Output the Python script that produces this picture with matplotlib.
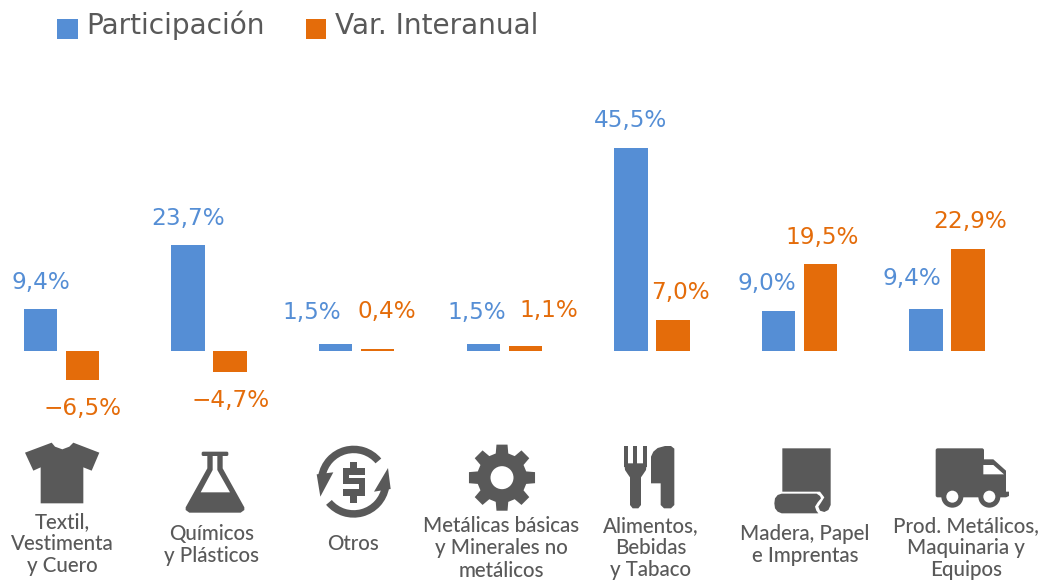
import numpy as np
import matplotlib
matplotlib.use("Agg")
import matplotlib.pyplot as plt
from matplotlib.patches import Polygon, Circle, Wedge, FancyBboxPatch

categories = ["Textil,\nVestimenta\ny Cuero", "Químicos\ny Plásticos", "Otros",
              "Metálicas básicas\ny Minerales no\nmetálicos", "Alimentos,\nBebidas\ny Tabaco",
              "Madera, Papel\ne Imprentas", "Prod. Metálicos,\nMaquinaria y\nEquipos"]
participacion = [9.4, 23.7, 1.5, 1.5, 45.5, 9.0, 9.4]
var_interanual = [-6.5, -4.7, 0.4, 1.1, 7.0, 19.5, 22.9]
series_names = ["Participación", "Var. Interanual"]

BLUE, ORANGE, GREY = "#558ED5", "#E46C0A", "#595959"
W, H = 1045, 580
fig = plt.figure(figsize=(W / 100, H / 100), dpi=100, facecolor="white")
ax = fig.add_axes([0, 0, 1, 1])
PX_X, PX_Y, X0, Y0 = 147.6, 4.46, 61.5, 351.0
ax.set_xlim(-X0 / PX_X, (W - X0) / PX_X)
ax.set_ylim((Y0 - H) / PX_Y, Y0 / PX_Y)
ax.axis("off")

x = np.arange(len(categories))
bw, off = 33.5 / PX_X, 21 / PX_X
b1 = ax.bar(x - off, participacion, bw, color=BLUE, label=series_names[0])
b2 = ax.bar(x + off, var_interanual, bw, color=ORANGE, label=series_names[1])

def fmt(v):
    return f"{v:.1f}".replace(".", ",").replace("-", "\u2212") + "%"

# label offsets from the bar end, in pixels (dx, dy upward)
off1 = [(0, 27), (0, 27), (-24, 32), (-7, 32), (0, 28), (-12, 27), (-14, 31)]
off2 = [(0, -29), (0, -29), (9, 38), (24, 36), (8, 27), (2, 27), (2, 27)]
for xs, vals, offs, col in ((x - off, participacion, off1, BLUE), (x + off, var_interanual, off2, ORANGE)):
    for xi, v, (dx, dy) in zip(xs, vals, offs):
        ax.annotate(fmt(v), (xi, v), xytext=(dx * .72, dy * .72), textcoords="offset points",
                    ha="center", va="center", color=col, fontsize=16.7, family="DejaVu Sans")

leg = ax.legend(handles=[b1, b2], loc="upper left", bbox_to_anchor=(35 / W, 1 + 12 / H), frameon=False,
                ncol=2, fontsize=20.2, labelcolor=GREY, handlelength=0.72, handleheight=0.75,
                handletextpad=0.3, columnspacing=1.48, borderpad=0.3)
for h in leg.legend_handles:
    h.set_y(h.get_y() - 5 * .72)

# overlay in reference pixel coordinates for the pictograms and captions
ov = fig.add_axes([0, 0, 1, 1], facecolor="none")
ov.set_xlim(0, W); ov.set_ylim(H, 0); ov.axis("off")
IC = "#595959"

cap_x = [62, 212, 353, 501, 651, 805, 966]
cap_y = [544, 545, 544, 548.5, 548, 545, 548]
for c, cx, cy in zip(categories, cap_x, cap_y):
    ov.text(cx, cy, c, ha="center", va="center", color=GREY, fontsize=14.8, family="Lato",
            fontweight="medium", linespacing=1.13, multialignment="center")

def z1(p): return [(a / 3, 430 + b / 3) for a, b in p]
def zo(x0, y0, p): return [(x0 + a / 3, y0 + b / 3) for a, b in p]
def poly(pts, fc=IC, z=3): ov.add_patch(Polygon(pts, closed=True, fc=fc, ec="none", zorder=z))
def rrect(x0, y0, x1, y1, r, fc=IC, z=3):
    ov.add_patch(FancyBboxPatch((x0 + r, y0 + r), x1 - x0 - 2 * r, y1 - y0 - 2 * r,
                                boxstyle=f"round,pad={r}", fc=fc, ec="none", zorder=z))

# T-shirt
poly(z1([(75, 68), (155, 38), (165, 50), (187, 58), (208, 50), (220, 38), (298, 68), (275, 122),
         (250, 112), (250, 220), (122, 220), (122, 112), (100, 122)]))
# Flask
rrect(*z1([(605, 65)])[0], *z1([(685, 78)])[0], 1.5)
poly(z1([(622, 75), (668, 75), (668, 115), (733, 232), (733, 240), (722, 248), (568, 248), (557, 240),
         (557, 232), (622, 115)]))
poly(z1([(638, 78), (652, 78), (652, 120), (690, 187), (602, 187), (638, 120)]), fc="white", z=4)

# Circular arrows with dollar
ox, oy = 312, 440
cc = zo(ox, oy, [(125, 125)])[0]
ov.add_patch(Wedge(cc, 36, 190, 320, width=7.5, fc=IC, ec="none", zorder=3))
ov.add_patch(Wedge(cc, 36, 10, 140, width=7.5, fc=IC, ec="none", zorder=3))
poly(zo(ox, oy, [(14, 103), (64, 97), (25, 170)]))
poly(zo(ox, oy, [(236, 147), (186, 155), (228, 84)]))
for r in [(114, 65, 136, 90), (114, 160, 136, 190), (92, 85, 160, 105), (92, 85, 112, 133),
          (92, 115, 160, 133), (140, 115, 160, 168), (92, 148, 160, 168)]:
    a, b = zo(ox, oy, [r[:2], r[2:]])
    poly([a, (b[0], a[1]), b, (a[0], b[1])], z=4)

# Gear
gc = (420 + 205 / 2.5, 430 + 143 / 3)
pts = []
for k in range(8):
    a = np.deg2rad(k * 45)
    for d, r in ((-14.5, 25), (-9.5, 33.5), (9.5, 33.5), (14.5, 25)):
        t = a + np.deg2rad(d)
        pts.append((gc[0] + r * np.cos(t), gc[1] + r * np.sin(t)))
poly(pts)
ov.add_patch(Circle(gc, 11.5, fc="white", ec="none", zorder=4))

# Fork and knife
ox, oy = 615, 440
for a, b in ((28, 40), (55, 67), (83, 95)):
    poly(zo(ox, oy, [(a, 18), (b, 18), (b, 80), (a, 80)]))
poly(zo(ox, oy, [(28, 70), (95, 70), (93, 90), (85, 102), (78, 112), (78, 195), (70, 205), (53, 205),
                 (45, 195), (45, 112), (38, 102), (30, 90)]))
poly(zo(ox, oy, [(108, 50), (115, 35), (128, 24), (150, 18), (168, 18), (178, 26), (178, 195), (168, 205),
                 (147, 205), (137, 195), (137, 130), (108, 130)]))

# Paper roll
ox, oy = 765, 440
poly(zo(ox, oy, [(52, 25), (197, 25), (197, 195), (190, 210), (178, 216), (165, 212), (160, 200), (168, 188),
                 (178, 172), (165, 155), (52, 155)]))
poly(zo(ox, oy, [(50, 161), (155, 161), (165, 168), (168, 175), (158, 187), (150, 200), (154, 212), (160, 220),
                 (50, 220), (38, 215), (30, 205), (28, 190), (30, 175), (38, 165)]))

# Truck
ox, oy = 930, 440
rrect(*zo(ox, oy, [(17, 25)])[0], *zo(ox, oy, [(162, 172)])[0], 2)
poly(zo(ox, oy, [(158, 58), (190, 58), (228, 92), (228, 155), (237, 155), (237, 168), (228, 172), (158, 172)]))
poly(zo(ox, oy, [(160, 75), (190, 75), (222, 103), (160, 103)]), fc="white", z=4)
for wx in (67, 178):
    wc = zo(ox, oy, [(wx, 170)])[0]
    ov.add_patch(Circle(wc, 11, fc=IC, ec="none", zorder=5))
    ov.add_patch(Circle(wc, 6, fc="white", ec="none", zorder=6))

fig.savefig("out.png", dpi=100, facecolor="white")
